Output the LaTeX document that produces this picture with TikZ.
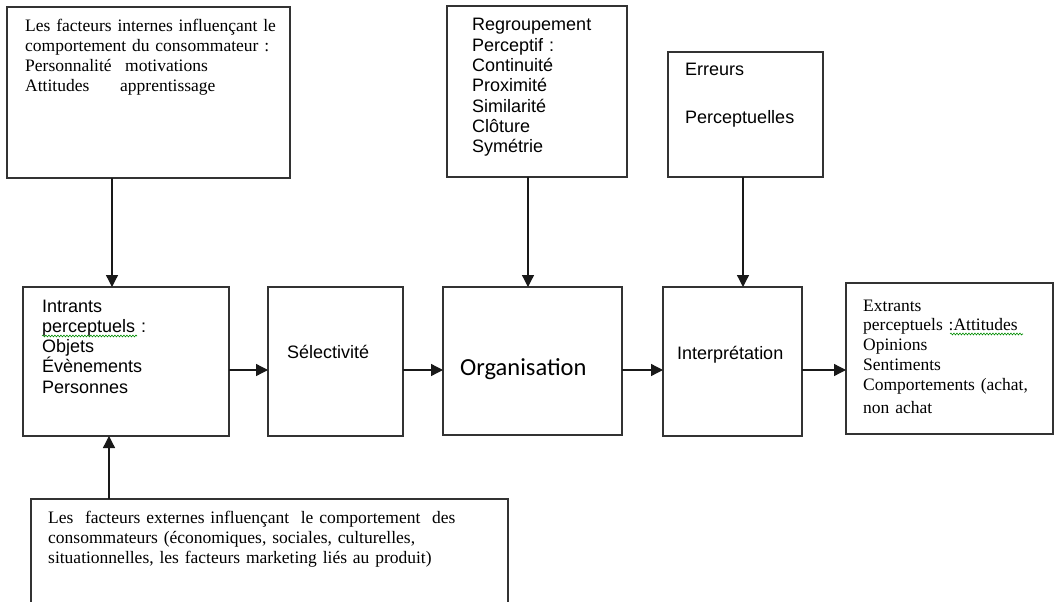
\documentclass[tikz,border=0pt]{standalone}
\usepackage{fontspec}
\setmainfont{Liberation Serif}
\newfontfamily\sansfam{Liberation Sans}
\newfontfamily\calfam{Carlito}
\usetikzlibrary{arrows.meta,decorations.pathmorphing}

\begin{document}
\begin{tikzpicture}[x=1pt,y=-1pt,
  box/.style={draw=black!80,line width=1.3pt,anchor=north west,inner sep=0pt,outer sep=0pt},
  serif/.style={anchor=base west,inner sep=0pt,align=left,text width=#1,
    font=\fontsize{17.5}{20}\selectfont},
  sans/.style={anchor=base west,inner sep=0pt,align=left,text width=#1,
    font=\sansfam\fontsize{18}{20.3}\selectfont},
  arr/.style={line width=1.3pt,draw=black!90,-{Triangle[length=12pt,width=12pt]}},
  squiggle/.style={draw=green!55!black,line width=0.6pt,
    decorate,decoration={snake,amplitude=0.9pt,segment length=3pt}}]

\useasboundingbox (0,0) rectangle (1055,602);

% boxes
\node[box,minimum width=283pt,minimum height=171pt] (fint) at (7,7) {};
\node[box,minimum width=180pt,minimum height=171pt] (grp) at (447,6) {};
\node[box,minimum width=155pt,minimum height=125pt] (err) at (668,52) {};
\node[box,minimum width=206pt,minimum height=149pt] (inp) at (23,287) {};
\node[box,minimum width=135pt,minimum height=149pt] (sel) at (268,287) {};
\node[box,minimum width=179pt,minimum height=148pt] (org) at (443,287) {};
\node[box,minimum width=139pt,minimum height=149pt] (itp) at (663,287) {};
\node[box,minimum width=207pt,minimum height=151pt] (outp) at (846,283) {};
% the lower box runs off the bottom edge: only three sides are drawn
\node[anchor=north west,inner sep=0pt,outer sep=0pt,minimum width=477pt,minimum height=110pt] (fext) at (31,499) {};
\draw[draw=black!80,line width=1.3pt] (fext.south west) -- (fext.north west) -- (fext.north east) -- (fext.south east);

% texts
\node[serif=265pt] (tint) at (25,32) {Les facteurs internes influençant le\\
comportement du consommateur :\\
\makebox[100pt][l]{Personnalité}motivations\\
\makebox[95pt][l]{Attitudes}apprentissage};

\node[sans=150pt] (tgrp) at (472,31) {Regroupement\\Perceptif :\\Continuité\\Proximité\\Similarité\\Clôture\\Symétrie};

\node[sans=130pt] (terr) at (685,76) {Erreurs\\[27pt]Perceptuelles};

\node[sans=180pt] (tinp) at (42,312) {Intrants\\perceptuels :\\Objets\\Évènements\\Personnes};

\node[sans=110pt] (tsel) at (287,358) {Sélectivité};

\node[anchor=base west,inner sep=0pt,font=\calfam\fontsize{24.5}{28}\selectfont] (torg) at (460,375) {Organisation};

\node[sans=120pt] (titp) at (677,359) {Interprétation};

\node[serif=185pt] (toutp) at (863,311) {Extrants\\[-1pt]
perceptuels :Attitudes\\Opinions\\Sentiments\\Comportements (achat,\\[3pt]non achat};

\node[serif=460pt] (text) at (48,523) {Les\ \ facteurs externes influençant\ \ le comportement\ \ des\\
consommateurs (économiques, sociales, culturelles,\\
situationnelles, les facteurs marketing liés au produit)};

% spelling marks under two words
\coordinate (sqa) at (42,336);
\coordinate (sqb) at (137,336);
\coordinate (sqc) at (950,334);
\coordinate (sqd) at (1023,334);
\path[squiggle] (sqa) -- (sqb);
\path[squiggle] (sqc) -- (sqd);

% connectors
\coordinate (row) at (0,370);
\draw[arr] (fint.south -| 112,0) -- (inp.north -| 112,0);
\draw[arr] (fext.north -| 109,0) -- (inp.south -| 109,0);
\draw[arr] (grp.south -| 528,0) -- (org.north -| 528,0);
\draw[arr] (err.south -| 743,0) -- (itp.north -| 743,0);
\draw[arr] (inp.east |- row) -- (sel.west |- row);
\draw[arr] (sel.east |- row) -- (org.west |- row);
\draw[arr] (org.east |- row) -- (itp.west |- row);
\draw[arr] (itp.east |- row) -- (outp.west |- row);
\end{tikzpicture}
\end{document}
